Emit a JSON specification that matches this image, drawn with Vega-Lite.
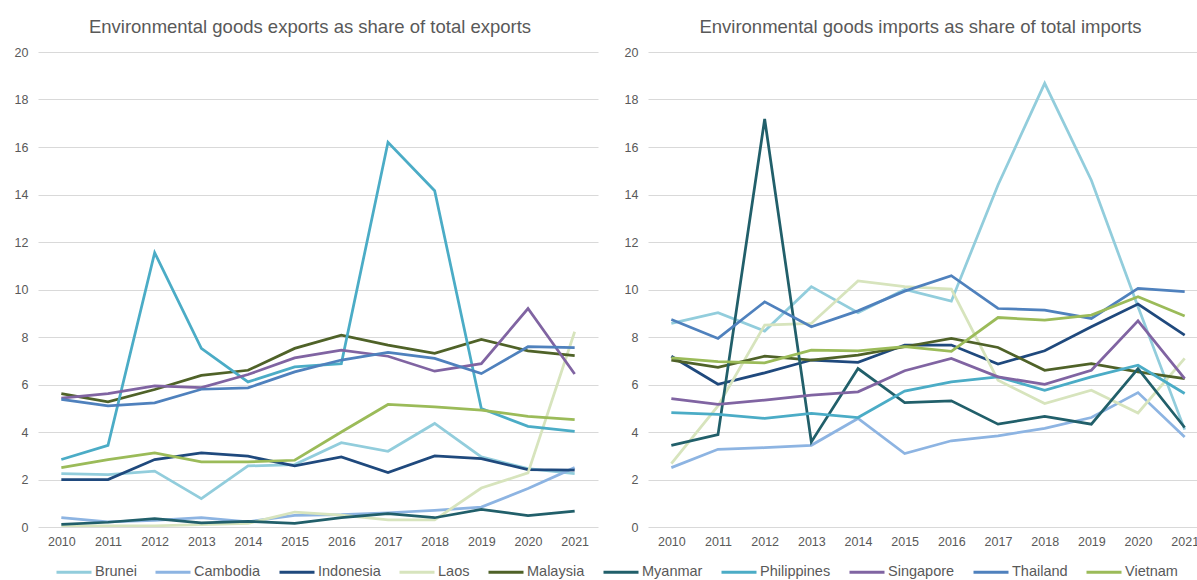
{
  "$schema": "https://vega.github.io/schema/vega-lite/v6.json",
  "padding": {"left": 5, "top": 17, "right": 0, "bottom": 0},
  "background": "white",
  "config": {
    "font": "Liberation Sans",
    "view": {"stroke": null},
    "axis": {"labelFont": "Liberation Sans", "labelColor": "#595959", "labelFontSize": 12.5, "ticks": false, "tickSize": 0, "domain": false, "gridColor": "#d9d9d9", "gridWidth": 1, "title": null},
    "title": {"font": "Liberation Sans", "fontSize": 18.5, "fontWeight": "normal", "color": "#595959", "anchor": "middle", "offset": 10}
  },
  "datasets": {
    "exports": [
      {"country":"Brunei","year":2010,"value":2.25},{"country":"Brunei","year":2011,"value":2.21},{"country":"Brunei","year":2012,"value":2.35},{"country":"Brunei","year":2013,"value":1.19},{"country":"Brunei","year":2014,"value":2.57},{"country":"Brunei","year":2015,"value":2.63},{"country":"Brunei","year":2016,"value":3.55},{"country":"Brunei","year":2017,"value":3.19},{"country":"Brunei","year":2018,"value":4.36},{"country":"Brunei","year":2019,"value":2.95},{"country":"Brunei","year":2020,"value":2.46},{"country":"Brunei","year":2021,"value":2.25},
      {"country":"Cambodia","year":2010,"value":0.39},{"country":"Cambodia","year":2011,"value":0.22},{"country":"Cambodia","year":2012,"value":0.28},{"country":"Cambodia","year":2013,"value":0.39},{"country":"Cambodia","year":2014,"value":0.22},{"country":"Cambodia","year":2015,"value":0.49},{"country":"Cambodia","year":2016,"value":0.52},{"country":"Cambodia","year":2017,"value":0.6},{"country":"Cambodia","year":2018,"value":0.7},{"country":"Cambodia","year":2019,"value":0.84},{"country":"Cambodia","year":2020,"value":1.62},{"country":"Cambodia","year":2021,"value":2.5},
      {"country":"Indonesia","year":2010,"value":2.0},{"country":"Indonesia","year":2011,"value":2.0},{"country":"Indonesia","year":2012,"value":2.84},{"country":"Indonesia","year":2013,"value":3.12},{"country":"Indonesia","year":2014,"value":2.98},{"country":"Indonesia","year":2015,"value":2.57},{"country":"Indonesia","year":2016,"value":2.95},{"country":"Indonesia","year":2017,"value":2.29},{"country":"Indonesia","year":2018,"value":2.99},{"country":"Indonesia","year":2019,"value":2.88},{"country":"Indonesia","year":2020,"value":2.42},{"country":"Indonesia","year":2021,"value":2.39},
      {"country":"Laos","year":2010,"value":0.05},{"country":"Laos","year":2011,"value":0.05},{"country":"Laos","year":2012,"value":0.05},{"country":"Laos","year":2013,"value":0.1},{"country":"Laos","year":2014,"value":0.15},{"country":"Laos","year":2015,"value":0.63},{"country":"Laos","year":2016,"value":0.5},{"country":"Laos","year":2017,"value":0.3},{"country":"Laos","year":2018,"value":0.3},{"country":"Laos","year":2019,"value":1.64},{"country":"Laos","year":2020,"value":2.28},{"country":"Laos","year":2021,"value":8.22},
      {"country":"Malaysia","year":2010,"value":5.62},{"country":"Malaysia","year":2011,"value":5.27},{"country":"Malaysia","year":2012,"value":5.79},{"country":"Malaysia","year":2013,"value":6.38},{"country":"Malaysia","year":2014,"value":6.6},{"country":"Malaysia","year":2015,"value":7.52},{"country":"Malaysia","year":2016,"value":8.08},{"country":"Malaysia","year":2017,"value":7.66},{"country":"Malaysia","year":2018,"value":7.31},{"country":"Malaysia","year":2019,"value":7.9},{"country":"Malaysia","year":2020,"value":7.42},{"country":"Malaysia","year":2021,"value":7.22},
      {"country":"Myanmar","year":2010,"value":0.11},{"country":"Myanmar","year":2011,"value":0.2},{"country":"Myanmar","year":2012,"value":0.35},{"country":"Myanmar","year":2013,"value":0.17},{"country":"Myanmar","year":2014,"value":0.24},{"country":"Myanmar","year":2015,"value":0.15},{"country":"Myanmar","year":2016,"value":0.39},{"country":"Myanmar","year":2017,"value":0.56},{"country":"Myanmar","year":2018,"value":0.39},{"country":"Myanmar","year":2019,"value":0.74},{"country":"Myanmar","year":2020,"value":0.48},{"country":"Myanmar","year":2021,"value":0.67},
      {"country":"Philippines","year":2010,"value":2.84},{"country":"Philippines","year":2011,"value":3.44},{"country":"Philippines","year":2012,"value":11.55},{"country":"Philippines","year":2013,"value":7.52},{"country":"Philippines","year":2014,"value":6.11},{"country":"Philippines","year":2015,"value":6.74},{"country":"Philippines","year":2016,"value":6.88},{"country":"Philippines","year":2017,"value":16.2},{"country":"Philippines","year":2018,"value":14.16},{"country":"Philippines","year":2019,"value":4.99},{"country":"Philippines","year":2020,"value":4.24},{"country":"Philippines","year":2021,"value":4.03},
      {"country":"Singapore","year":2010,"value":5.43},{"country":"Singapore","year":2011,"value":5.62},{"country":"Singapore","year":2012,"value":5.94},{"country":"Singapore","year":2013,"value":5.87},{"country":"Singapore","year":2014,"value":6.42},{"country":"Singapore","year":2015,"value":7.12},{"country":"Singapore","year":2016,"value":7.45},{"country":"Singapore","year":2017,"value":7.19},{"country":"Singapore","year":2018,"value":6.56},{"country":"Singapore","year":2019,"value":6.88},{"country":"Singapore","year":2020,"value":9.2},{"country":"Singapore","year":2021,"value":6.44},
      {"country":"Thailand","year":2010,"value":5.37},{"country":"Thailand","year":2011,"value":5.1},{"country":"Thailand","year":2012,"value":5.23},{"country":"Thailand","year":2013,"value":5.8},{"country":"Thailand","year":2014,"value":5.86},{"country":"Thailand","year":2015,"value":6.53},{"country":"Thailand","year":2016,"value":7.03},{"country":"Thailand","year":2017,"value":7.35},{"country":"Thailand","year":2018,"value":7.1},{"country":"Thailand","year":2019,"value":6.46},{"country":"Thailand","year":2020,"value":7.59},{"country":"Thailand","year":2021,"value":7.55},
      {"country":"Vietnam","year":2010,"value":2.5},{"country":"Vietnam","year":2011,"value":2.84},{"country":"Vietnam","year":2012,"value":3.12},{"country":"Vietnam","year":2013,"value":2.74},{"country":"Vietnam","year":2014,"value":2.74},{"country":"Vietnam","year":2015,"value":2.81},{"country":"Vietnam","year":2016,"value":4.0},{"country":"Vietnam","year":2017,"value":5.16},{"country":"Vietnam","year":2018,"value":5.06},{"country":"Vietnam","year":2019,"value":4.92},{"country":"Vietnam","year":2020,"value":4.66},{"country":"Vietnam","year":2021,"value":4.52}
    ],
    "imports": [
      {"country":"Brunei","year":2010,"value":8.57},{"country":"Brunei","year":2011,"value":9.02},{"country":"Brunei","year":2012,"value":8.25},{"country":"Brunei","year":2013,"value":10.12},{"country":"Brunei","year":2014,"value":9.02},{"country":"Brunei","year":2015,"value":10.0},{"country":"Brunei","year":2016,"value":9.51},{"country":"Brunei","year":2017,"value":14.4},{"country":"Brunei","year":2018,"value":18.68},{"country":"Brunei","year":2019,"value":14.6},{"country":"Brunei","year":2020,"value":9.27},{"country":"Brunei","year":2021,"value":4.1},
      {"country":"Cambodia","year":2010,"value":2.5},{"country":"Cambodia","year":2011,"value":3.27},{"country":"Cambodia","year":2012,"value":3.34},{"country":"Cambodia","year":2013,"value":3.44},{"country":"Cambodia","year":2014,"value":4.57},{"country":"Cambodia","year":2015,"value":3.09},{"country":"Cambodia","year":2016,"value":3.63},{"country":"Cambodia","year":2017,"value":3.84},{"country":"Cambodia","year":2018,"value":4.15},{"country":"Cambodia","year":2019,"value":4.61},{"country":"Cambodia","year":2020,"value":5.66},{"country":"Cambodia","year":2021,"value":3.79},
      {"country":"Indonesia","year":2010,"value":7.19},{"country":"Indonesia","year":2011,"value":6.01},{"country":"Indonesia","year":2012,"value":6.49},{"country":"Indonesia","year":2013,"value":7.03},{"country":"Indonesia","year":2014,"value":6.93},{"country":"Indonesia","year":2015,"value":7.66},{"country":"Indonesia","year":2016,"value":7.66},{"country":"Indonesia","year":2017,"value":6.86},{"country":"Indonesia","year":2018,"value":7.42},{"country":"Indonesia","year":2019,"value":8.43},{"country":"Indonesia","year":2020,"value":9.39},{"country":"Indonesia","year":2021,"value":8.08},
      {"country":"Laos","year":2010,"value":2.67},{"country":"Laos","year":2011,"value":5.1},{"country":"Laos","year":2012,"value":8.5},{"country":"Laos","year":2013,"value":8.57},{"country":"Laos","year":2014,"value":10.36},{"country":"Laos","year":2015,"value":10.12},{"country":"Laos","year":2016,"value":10.02},{"country":"Laos","year":2017,"value":6.18},{"country":"Laos","year":2018,"value":5.2},{"country":"Laos","year":2019,"value":5.76},{"country":"Laos","year":2020,"value":4.8},{"country":"Laos","year":2021,"value":7.1},
      {"country":"Malaysia","year":2010,"value":7.03},{"country":"Malaysia","year":2011,"value":6.72},{"country":"Malaysia","year":2012,"value":7.19},{"country":"Malaysia","year":2013,"value":7.03},{"country":"Malaysia","year":2014,"value":7.24},{"country":"Malaysia","year":2015,"value":7.59},{"country":"Malaysia","year":2016,"value":7.94},{"country":"Malaysia","year":2017,"value":7.56},{"country":"Malaysia","year":2018,"value":6.6},{"country":"Malaysia","year":2019,"value":6.88},{"country":"Malaysia","year":2020,"value":6.53},{"country":"Malaysia","year":2021,"value":6.25},
      {"country":"Myanmar","year":2010,"value":3.44},{"country":"Myanmar","year":2011,"value":3.89},{"country":"Myanmar","year":2012,"value":17.18},{"country":"Myanmar","year":2013,"value":3.58},{"country":"Myanmar","year":2014,"value":6.67},{"country":"Myanmar","year":2015,"value":5.24},{"country":"Myanmar","year":2016,"value":5.31},{"country":"Myanmar","year":2017,"value":4.33},{"country":"Myanmar","year":2018,"value":4.66},{"country":"Myanmar","year":2019,"value":4.33},{"country":"Myanmar","year":2020,"value":6.67},{"country":"Myanmar","year":2021,"value":4.19},
      {"country":"Philippines","year":2010,"value":4.82},{"country":"Philippines","year":2011,"value":4.74},{"country":"Philippines","year":2012,"value":4.57},{"country":"Philippines","year":2013,"value":4.78},{"country":"Philippines","year":2014,"value":4.61},{"country":"Philippines","year":2015,"value":5.72},{"country":"Philippines","year":2016,"value":6.11},{"country":"Philippines","year":2017,"value":6.32},{"country":"Philippines","year":2018,"value":5.76},{"country":"Philippines","year":2019,"value":6.32},{"country":"Philippines","year":2020,"value":6.81},{"country":"Philippines","year":2021,"value":5.62},
      {"country":"Singapore","year":2010,"value":5.41},{"country":"Singapore","year":2011,"value":5.16},{"country":"Singapore","year":2012,"value":5.34},{"country":"Singapore","year":2013,"value":5.55},{"country":"Singapore","year":2014,"value":5.69},{"country":"Singapore","year":2015,"value":6.58},{"country":"Singapore","year":2016,"value":7.1},{"country":"Singapore","year":2017,"value":6.32},{"country":"Singapore","year":2018,"value":6.01},{"country":"Singapore","year":2019,"value":6.6},{"country":"Singapore","year":2020,"value":8.68},{"country":"Singapore","year":2021,"value":6.25},
      {"country":"Thailand","year":2010,"value":8.74},{"country":"Thailand","year":2011,"value":7.94},{"country":"Thailand","year":2012,"value":9.48},{"country":"Thailand","year":2013,"value":8.43},{"country":"Thailand","year":2014,"value":9.1},{"country":"Thailand","year":2015,"value":9.93},{"country":"Thailand","year":2016,"value":10.58},{"country":"Thailand","year":2017,"value":9.2},{"country":"Thailand","year":2018,"value":9.13},{"country":"Thailand","year":2019,"value":8.78},{"country":"Thailand","year":2020,"value":10.05},{"country":"Thailand","year":2021,"value":9.91},
      {"country":"Vietnam","year":2010,"value":7.12},{"country":"Vietnam","year":2011,"value":6.96},{"country":"Vietnam","year":2012,"value":6.91},{"country":"Vietnam","year":2013,"value":7.45},{"country":"Vietnam","year":2014,"value":7.42},{"country":"Vietnam","year":2015,"value":7.59},{"country":"Vietnam","year":2016,"value":7.4},{"country":"Vietnam","year":2017,"value":8.82},{"country":"Vietnam","year":2018,"value":8.71},{"country":"Vietnam","year":2019,"value":8.92},{"country":"Vietnam","year":2020,"value":9.7},{"country":"Vietnam","year":2021,"value":8.88}
    ]
  },
  "spacing": 17,
  "hconcat": [
    {
      "data": {"name": "exports"},
      "title": {"text": "Environmental goods exports as share of total exports", "dx": -8},
      "width": 560,
      "height": 475,
      "mark": {"type": "line", "strokeWidth": 2.75, "clip": true},
      "encoding": {
        "x": {"field": "year", "type": "quantitative", "scale": {"domain": [2009.5, 2021.5], "nice": false, "zero": false}, "axis": {"values": [2010,2011,2012,2013,2014,2015,2016,2017,2018,2019,2020,2021], "format": "d", "grid": false, "labelPadding": 8}},
        "y": {"field": "value", "type": "quantitative", "scale": {"domain": [0, 20], "nice": false}, "axis": {"values": [0,2,4,6,8,10,12,14,16,18,20], "labelPadding": 10, "minExtent": 33}},
        "color": {"field": "country", "type": "nominal", "scale": {"domain": ["Brunei","Cambodia","Indonesia","Laos","Malaysia","Myanmar","Philippines","Singapore","Thailand","Vietnam"], "range": ["#92cddc","#8db4e2","#1f497d","#d7e4bd","#4f6228","#215f6a","#4bacc6","#8064a2","#4f81bd","#9bbb59"]},
          "legend": {"orient": "none", "legendX": 17, "legendY": 501, "direction": "horizontal", "columns": 10, "title": null, "symbolType": "stroke", "symbolSize": 1225, "symbolStrokeWidth": 3, "labelFont": "Liberation Sans", "labelFontSize": 14.5, "labelColor": "#595959", "labelOffset": 2, "columnPadding": 12, "padding": 0}}
      }
    },
    {
      "data": {"name": "imports"},
      "title": {"text": "Environmental goods imports as share of total imports", "dx": -2},
      "width": 549,
      "height": 475,
      "mark": {"type": "line", "strokeWidth": 2.75, "clip": true},
      "encoding": {
        "x": {"field": "year", "type": "quantitative", "scale": {"domain": [2009.5, 2021.264], "nice": false, "zero": false}, "axis": {"values": [2010,2011,2012,2013,2014,2015,2016,2017,2018,2019,2020,2021], "format": "d", "grid": false, "labelPadding": 8}},
        "y": {"field": "value", "type": "quantitative", "scale": {"domain": [0, 20], "nice": false}, "axis": {"values": [0,2,4,6,8,10,12,14,16,18,20], "labelPadding": 10, "minExtent": 33}},
        "color": {"field": "country", "type": "nominal"}
      }
    }
  ]
}
